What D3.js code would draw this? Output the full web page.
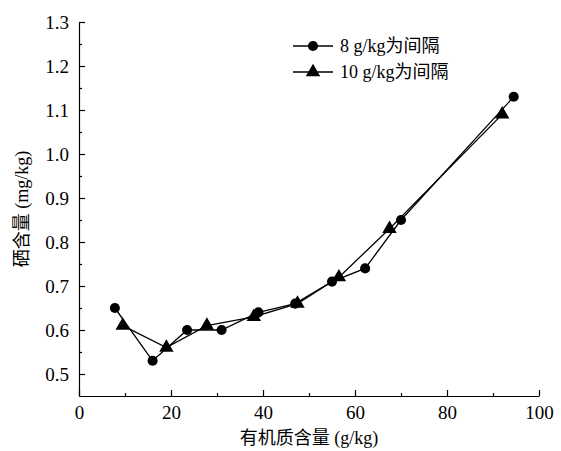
<!DOCTYPE html>
<html><head><meta charset="utf-8">
<script src="https://cdn.jsdelivr.net/npm/d3@7"></script>
<style>body{margin:0;background:#fff}</style>
</head><body><div id="chart"></div>
<script>
var xs1 = [7.8, 16, 23.5, 31, 39, 47, 55, 62.2, 70, 94.5];
var ys1 = [0.65, 0.53, 0.60, 0.60, 0.64, 0.66, 0.71, 0.74, 0.85, 1.13];
var xs2 = [9.5, 19, 27.8, 38, 47.5, 56.5, 67.5, 92];
var ys2 = [0.61, 0.56, 0.61, 0.63, 0.66, 0.72, 0.83, 1.09];
var xTicks = [0, 20, 40, 60, 80, 100];
var yTicks = [0.5, 0.6, 0.7, 0.8, 0.9, 1.0, 1.1, 1.2, 1.3];
var names = ["8 g/kg为间隔", "10 g/kg为间隔"];
var FONT = "'Liberation Serif', 'Noto Sans CJK SC', serif";

var svg = d3.select("#chart").append("svg").attr("width", 561).attr("height", 451)
	.style("font-family", FONT);
var x = d3.scaleLinear().domain([0, 100]).range([79, 539]);
var y = d3.scaleLinear().domain([0.45, 1.3]).range([396, 22]);

svg.append("g").attr("transform", "translate(0,396)")
	.call(d3.axisBottom(x).tickValues(xTicks).tickSizeInner(-6).tickSizeOuter(0).tickPadding(10));
svg.append("g").attr("transform", "translate(0,396)")
	.call(d3.axisBottom(x).tickValues(d3.range(10, 100, 20)).tickSize(-3).tickFormat(""))
	.select(".domain").remove();
svg.append("g").attr("transform", "translate(79,0)")
	.call(d3.axisLeft(y).tickValues(yTicks).tickSizeInner(-6).tickSizeOuter(0).tickPadding(10).tickFormat(d3.format(".1f")));
svg.append("g").attr("transform", "translate(79,0)")
	.call(d3.axisLeft(y).tickValues(d3.range(0.55, 1.3, 0.1)).tickSize(-3).tickFormat(""))
	.select(".domain").remove();
svg.selectAll("g").attr("font-family", FONT);
svg.selectAll(".tick text").attr("font-size", 19).attr("fill", "#000");
svg.selectAll(".domain, .tick line").attr("stroke", "#000").attr("stroke-width", 1.2);

svg.append("text").attr("x", 309).attr("y", 444).attr("text-anchor", "middle")
	.attr("font-size", 18).text("有机质含量 (g/kg)");
svg.append("text").attr("transform", "translate(28,209) rotate(-90)").attr("text-anchor", "middle")
	.attr("font-size", 18).attr("fill", "#000").text("硒含量 (mg/kg)");

var line = d3.line().x(function(d){ return x(d[0]); }).y(function(d){ return y(d[1]); });
var d1 = xs1.map(function(v, i){ return [v, ys1[i]]; });
var d2 = xs2.map(function(v, i){ return [v, ys2[i]]; });
svg.append("path").attr("d", line(d1)).attr("fill", "none").attr("stroke", "#000").attr("stroke-width", 1.3);
svg.append("path").attr("d", line(d2)).attr("fill", "none").attr("stroke", "#000").attr("stroke-width", 1.3);
var circ = d3.symbol().type(d3.symbolCircle).size(80);
var tri = d3.symbol().type(d3.symbolTriangle).size(90);
svg.selectAll(".c").data(d1).enter().append("path").attr("d", circ)
	.attr("transform", function(d){ return "translate(" + x(d[0]) + "," + y(d[1]) + ")"; });
svg.selectAll(".t").data(d2).enter().append("path").attr("d", tri)
	.attr("transform", function(d){ return "translate(" + x(d[0]) + "," + y(d[1]) + ")"; });

var leg = svg.append("g");
[0, 1].forEach(function(i){
	var ly = 46 + i * 26;
	leg.append("line").attr("x1", 293).attr("x2", 333).attr("y1", ly).attr("y2", ly).attr("stroke", "#000").attr("stroke-width", 1.3);
	leg.append("path").attr("d", i ? tri : circ).attr("transform", "translate(313," + ly + ")");
	leg.append("text").attr("x", 340).attr("y", ly + 6).attr("font-size", 18).text(names[i]);
});
</script></body></html>
